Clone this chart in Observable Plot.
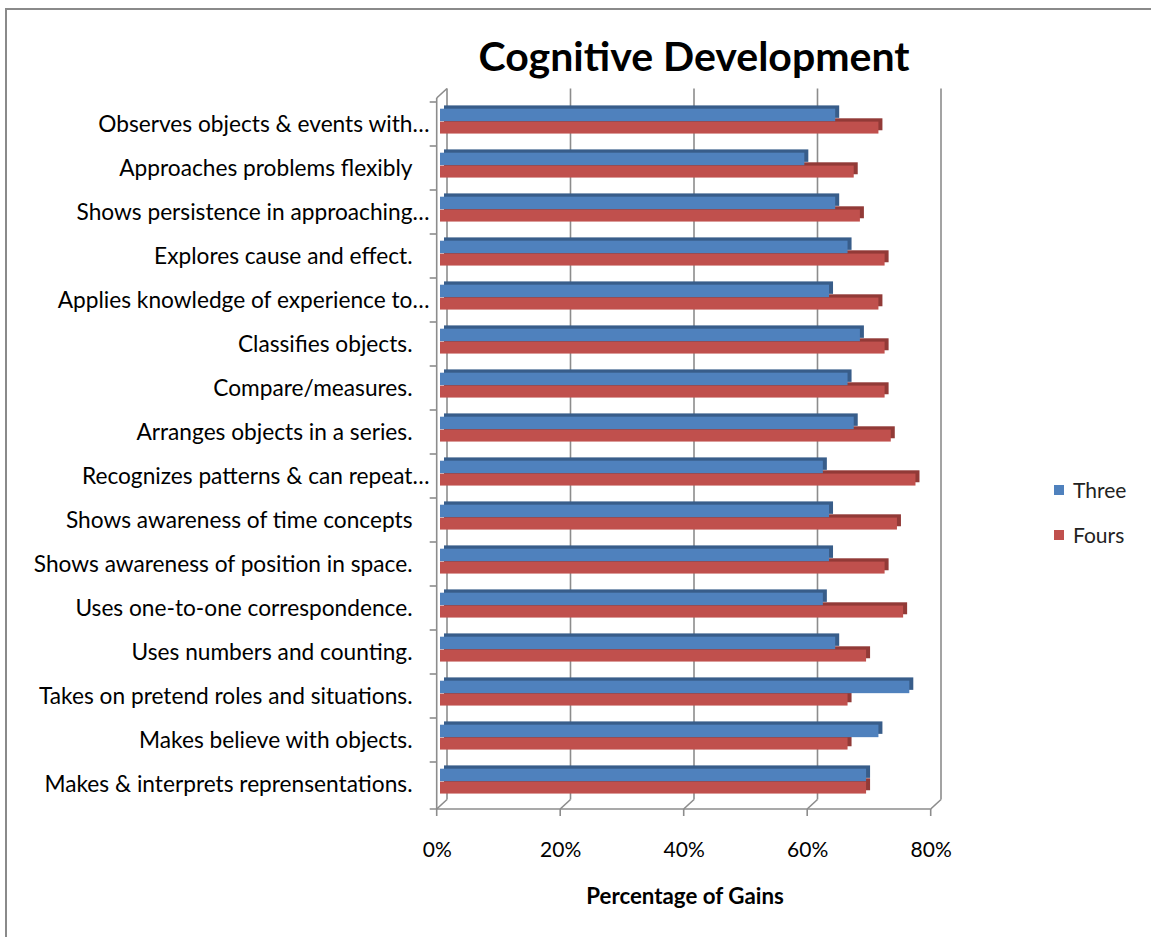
<!DOCTYPE html>
<html><head><meta charset="utf-8">
<script src="https://cdn.jsdelivr.net/npm/d3@7"></script>
<script src="https://cdn.jsdelivr.net/npm/@observablehq/plot@0.6"></script>
<style>
html,body{margin:0;padding:0;background:#fff;overflow:hidden;}
#wrap{position:relative;width:1151px;height:937px;overflow:hidden;font-family:Lato,"Open Sans",sans-serif;color:#000;}
#border{position:absolute;left:5px;top:8px;width:1300px;height:1100px;border:2px solid #8a8a8a;box-sizing:border-box;}
#chart{position:absolute;left:0;top:0;}
#title{position:absolute;left:394px;width:600px;top:35px;text-align:center;font-size:41px;font-weight:bold;line-height:1;white-space:nowrap;}
#xlabel{position:absolute;left:485px;width:400px;top:885px;text-align:center;font-size:22.3px;font-weight:bold;line-height:1;}
.leg{position:absolute;left:1054px;font-size:21px;line-height:1;display:flex;align-items:center;color:#222;}
.leg span.sw{display:inline-block;width:10px;height:10px;margin-right:9px;}
</style></head>
<body>
<div id="wrap">
  <div id="border"></div>
  <div id="chart"></div>
  <div id="title">Cognitive Development</div>
  <div id="xlabel">Percentage of Gains</div>
  <div id="legend"></div>
</div>
<script>
const categories = [
  "Observes objects & events with…",
  "Approaches problems flexibly",
  "Shows persistence in approaching…",
  "Explores cause and effect.",
  "Applies knowledge of experience to…",
  "Classifies objects.",
  "Compare/measures.",
  "Arranges objects in a series.",
  "Recognizes patterns & can repeat…",
  "Shows awareness of time concepts",
  "Shows awareness of position in space.",
  "Uses one-to-one correspondence.",
  "Uses numbers and counting.",
  "Takes on pretend roles and situations.",
  "Makes believe with objects.",
  "Makes & interprets reprensentations."
];
const three = [64, 59, 64, 66, 63, 68, 66, 67, 62, 63, 63, 62, 64, 76, 71, 69];
const fours = [71, 67, 68, 72, 71, 72, 72, 73, 77, 74, 72, 75, 69, 66, 66, 69];
const seriesNames = ["Three", "Fours"];
const seriesColors = ["#4f81bd", "#c0504d"];
const shadeColors = ["#385d8a", "#923a37"];
const xTicks = [0, 0.2, 0.4, 0.6, 0.8];

const rows = categories.map((c, i) => ({cat: c, three: three[i] / 100, fours: fours[i] / 100}));
const truncated = categories.filter(c => c.endsWith("…"));
const full = categories.filter(c => !c.endsWith("…"));

const W = 1151, H = 937, mT = 98, mB = 128, mL = 440, mR = 217;
const bw = (H - mT - mB) / categories.length;

function wallFrame(index, scales, values, dims) {
  const g = d3.create("svg:g").attr("stroke", "#8c8c8c").attr("stroke-width", 1.6).attr("fill", "none");
  const top = dims.marginTop, bottom = dims.height - dims.marginBottom;
  const fx = v => scales.x(v) - 3.3;
  const bx = v => scales.x(v) + 7;
  const dz = 9.5;
  const line = (x1, y1, x2, y2) => g.append("line").attr("x1", x1).attr("y1", y1).attr("x2", x2).attr("y2", y2);
  for (const t of xTicks) {
    line(bx(t), top - dz, bx(t), bottom - dz);
    line(fx(t), bottom, bx(t), bottom - dz);
    line(fx(t), bottom, fx(t), bottom + 7);
  }
  line(fx(0) - 7, bottom, fx(xTicks[xTicks.length - 1]), bottom);
  line(fx(0), top, fx(0), bottom);
  line(fx(0), top, bx(0), top - dz);
  for (const c of categories) {
    const y = scales.y(c);
    line(fx(0) - 7, y, fx(0), y);
  }
  return g.node();
}

const chart = Plot.plot({
  width: W, height: H,
  marginLeft: mL, marginRight: mR, marginTop: mT, marginBottom: mB,
  style: {fontFamily: "Lato, 'Open Sans', sans-serif", fontSize: "21px", color: "#000", background: "transparent", overflow: "visible"},
  x: {domain: [0, 0.8]},
  y: {domain: categories, padding: 0},
  marks: [
    wallFrame,
    Plot.barX(rows, {x: "fours", y: "cat", fill: shadeColors[1], insetTop: 19.6, insetBottom: bw - 32, dx: 4, dy: -3.3}),
    Plot.barX(rows, {x: "three", y: "cat", fill: shadeColors[0], insetTop: 6.7, insetBottom: bw - 19.6, dx: 4, dy: -3.3}),
    Plot.barX(rows, {x: "fours", y: "cat", fill: seriesColors[1], insetTop: 19.6, insetBottom: bw - 32}),
    Plot.barX(rows, {x: "three", y: "cat", fill: seriesColors[0], insetTop: 6.7, insetBottom: bw - 19.6}),
    Plot.axisY(full, {tickSize: 0, tickPadding: 28, label: null, fill: "#000", fontSize: 22.7}),
    Plot.axisY(truncated, {tickSize: 0, tickPadding: 11, label: null, fill: "#000", fontSize: 22.7}),
    Plot.axisX(xTicks, {tickSize: 0, tickPadding: 33, tickFormat: d3.format(".0%"), dx: -3.3, label: null, fill: "#000"})
  ]
});
document.getElementById("chart").appendChild(chart);

const legend = document.getElementById("legend");
seriesNames.forEach((name, i) => {
  const d = document.createElement("div");
  d.className = "leg";
  d.style.top = (479 + i * 45) + "px";
  d.innerHTML = `<span class="sw" style="background:${seriesColors[i]}"></span><span>${name}</span>`;
  legend.appendChild(d);
});
</script>
</body></html>
